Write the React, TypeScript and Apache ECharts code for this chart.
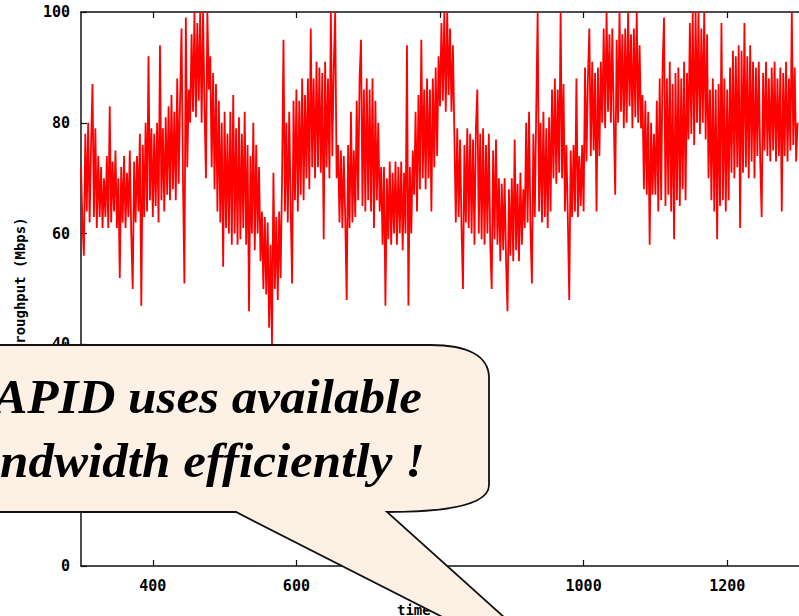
import React, { useEffect, useRef } from "react";
import * as echarts from "echarts";

// sampling of the trace (seconds)
const T_START = 300;
const T_STEP = 2;

// throughput (Mbps), one value every 2 s from t=300
const throughput = [
  72, 62, 56, 78, 64, 80, 62, 76, 87, 63,
  79, 61, 74, 63, 72, 61, 70, 63, 74, 61,
  83, 62, 73, 64, 75, 61, 70, 52, 72, 62,
  74, 61, 71, 63, 75, 60, 50, 73, 62, 74,
  64, 78, 47, 76, 63, 80, 64, 92, 66, 79,
  63, 78, 65, 80, 62, 94, 66, 79, 64, 81,
  67, 83, 66, 85, 68, 82, 66, 88, 69, 84,
  97, 70, 51, 99, 72, 86, 80, 96, 82, 100,
  81, 98, 84, 100, 80, 100, 83, 70, 100, 86,
  92, 72, 89, 68, 87, 64, 84, 62, 80, 54,
  82, 61, 78, 60, 82, 58, 85, 60, 79, 58,
  81, 59, 78, 61, 82, 58, 76, 46, 74, 60,
  80, 57, 76, 60, 72, 55, 64, 50, 63, 49,
  62, 43, 58, 40, 71, 50, 63, 48, 64, 52,
  70, 95, 64, 80, 62, 82, 65, 51, 84, 66,
  86, 64, 84, 67, 88, 66, 85, 70, 88, 68,
  97, 72, 88, 70, 91, 72, 90, 71, 89, 59,
  91, 72, 88, 70, 100, 74, 90, 100, 70, 76,
  62, 75, 61, 74, 63, 48, 76, 61, 82, 62,
  75, 63, 84, 66, 88, 95, 65, 86, 64, 88,
  66, 86, 64, 88, 61, 84, 66, 80, 64, 72,
  58, 72, 47, 70, 59, 73, 58, 71, 60, 73,
  58, 72, 60, 73, 57, 71, 60, 94, 47, 72,
  60, 75, 67, 82, 64, 85, 68, 95, 70, 86,
  68, 88, 70, 86, 64, 88, 72, 90, 74, 92,
  83, 98, 84, 100, 82, 100, 85, 97, 82, 94,
  78, 62, 79, 63, 77, 61, 50, 76, 62, 79,
  61, 78, 60, 77, 58, 79, 86, 60, 78, 59,
  79, 58, 76, 60, 78, 58, 50, 75, 59, 77,
  58, 70, 55, 69, 57, 70, 55, 46, 68, 56,
  70, 55, 77, 57, 69, 55, 71, 58, 68, 61,
  80, 62, 82, 61, 51, 78, 63, 82, 100, 64,
  80, 62, 82, 63, 79, 61, 81, 64, 86, 70,
  88, 69, 86, 71, 100, 70, 87, 64, 76, 63,
  48, 75, 63, 76, 64, 88, 63, 74, 65, 76,
  64, 90, 73, 88, 97, 74, 91, 75, 89, 64,
  90, 74, 91, 80, 97, 79, 100, 82, 96, 80,
  97, 81, 67, 95, 80, 100, 82, 96, 79, 97,
  80, 100, 83, 96, 79, 97, 81, 100, 80, 94,
  79, 85, 68, 84, 67, 82, 58, 80, 67, 78,
  67, 84, 64, 88, 66, 90, 99, 65, 88, 67,
  91, 64, 87, 59, 89, 66, 90, 65, 88, 68,
  91, 66, 89, 77, 98, 78, 100, 76, 100, 80,
  100, 78, 97, 80, 100, 77, 96, 70, 86, 66,
  88, 64, 86, 59, 87, 65, 98, 66, 88, 64,
  86, 66, 90, 71, 93, 70, 92, 72, 94, 61,
  93, 71, 98, 72, 92, 70, 94, 73, 91, 70,
  90, 74, 91, 73, 63, 89, 75, 91, 74, 88,
  73, 90, 75, 91, 73, 88, 74, 90, 64, 89,
  74, 91, 73, 88, 75, 100, 76, 90, 73, 80,
];

const xTicks = [400, 600, 800, 1000, 1200];
const X_MIN = 300;
const X_MAX = 1300;
const Y_MIN = 0;
const Y_MAX = 100;
const Y_STEP = 20;

const yTitle = "Throughput (Mbps)";
const xTitle = "time";
const calloutLine1 = "RAPID uses available";
const calloutLine2 = "bandwidth efficiently !";

const BUBBLE_D =
  "M -20 345 L 430 345 C 468 345 489 356 489 378 L 489 485 C 489 503 455 512 387 512 L 584 689 L 236 512 L -20 512 Z";

let shapeRegistered = false;
function ensureShape() {
  if (shapeRegistered) return;
  const Bubble = (echarts.graphic as any).extendPath(BUBBLE_D, {});
  (echarts.graphic as any).registerShape("bubble", Bubble);
  shapeRegistered = true;
}

const MONO = "'DejaVu Sans Mono', 'Liberation Mono', monospace";
const SERIF = "'Liberation Serif', 'DejaVu Serif', serif";

export default function App() {
  const ref = useRef<HTMLDivElement>(null);

  useEffect(() => {
    if (!ref.current) return;
    ensureShape();
    const chart = echarts.init(ref.current, undefined, { renderer: "svg" });
    const data = throughput.map((v, i) => [T_START + i * T_STEP, v]);

    const axisLine = { show: true, onZero: false, lineStyle: { color: "#111", width: 1.5 } };
    const tick = { show: true, inside: true, length: 6, lineStyle: { color: "#111", width: 1.2 } };
    const labelFont = { color: "#000", fontFamily: MONO, fontWeight: "bold", fontSize: 15 };

    chart.setOption({
      animation: false,
      grid: { left: 81, top: 12, width: 723, height: 554, containLabel: false },
      xAxis: [
        {
          type: "value",
          min: X_MIN,
          max: X_MAX,
          position: "bottom",
          axisLine,
          axisTick: { ...tick, customValues: xTicks },
          axisLabel: {
            customValues: xTicks,
            margin: 12,
            formatter: (v: number) => String(v),
            ...labelFont,
          },
          splitLine: { show: false },
        },
        {
          type: "value",
          min: X_MIN,
          max: X_MAX,
          position: "top",
          axisLine,
          axisTick: { ...tick, customValues: xTicks },
          axisLabel: { show: false },
          splitLine: { show: false },
        },
      ],
      yAxis: {
        type: "value",
        min: Y_MIN,
        max: Y_MAX,
        interval: Y_STEP,
        axisLine,
        axisTick: tick,
        axisLabel: { margin: 11, formatter: (v: number) => String(v), ...labelFont },
        splitLine: { show: false },
        name: yTitle,
        nameLocation: "middle",
        nameGap: 54,
        nameTextStyle: { color: "#000", fontFamily: MONO, fontWeight: "bold", fontSize: 14 },
      },
      series: [
        {
          type: "line",
          xAxisIndex: 0,
          data,
          symbol: "none",
          showSymbol: false,
          clip: true,
          lineStyle: { color: "#ff0000", width: 1.8 },
          itemStyle: { color: "#ff0000" },
          z: 2,
        },
      ],
      graphic: [
        {
          type: "text",
          z: 50,
          style: {
            text: xTitle,
            x: 397,
            y: 603,
            font: `bold 14px ${MONO}`,
            fill: "#000",
            textAlign: "left",
            textVerticalAlign: "top",
            align: "left",
            verticalAlign: "top",
          },
        },
        {
          type: "bubble",
          x: 0,
          y: 0,
          scaleX: 1,
          scaleY: 1,
          z: 100,
          style: { fill: "#fdf0e4", stroke: "#111", lineWidth: 1.8 },
        },
        {
          type: "text",
          z: 101,
          x: 422,
          y: 397,
          scaleX: 1.065,
          style: {
            text: calloutLine1,
            x: 0,
            y: 0,
            font: `italic bold 48px ${SERIF}`,
            fill: "#000",
            textAlign: "right",
            textVerticalAlign: "middle",
            align: "right",
            verticalAlign: "middle",
          },
        },
        {
          type: "text",
          z: 101,
          x: 425,
          y: 461,
          scaleX: 1.065,
          style: {
            text: calloutLine2,
            x: 0,
            y: 0,
            font: `italic bold 48px ${SERIF}`,
            fill: "#000",
            textAlign: "right",
            textVerticalAlign: "middle",
            align: "right",
            verticalAlign: "middle",
          },
        },
      ],
    });

    return () => chart.dispose();
  }, []);

  return (
    <div
      ref={ref}
      style={{ position: "absolute", left: 0, top: 0, width: 799, height: 616, overflow: "hidden", background: "#fff" }}
    />
  );
}
